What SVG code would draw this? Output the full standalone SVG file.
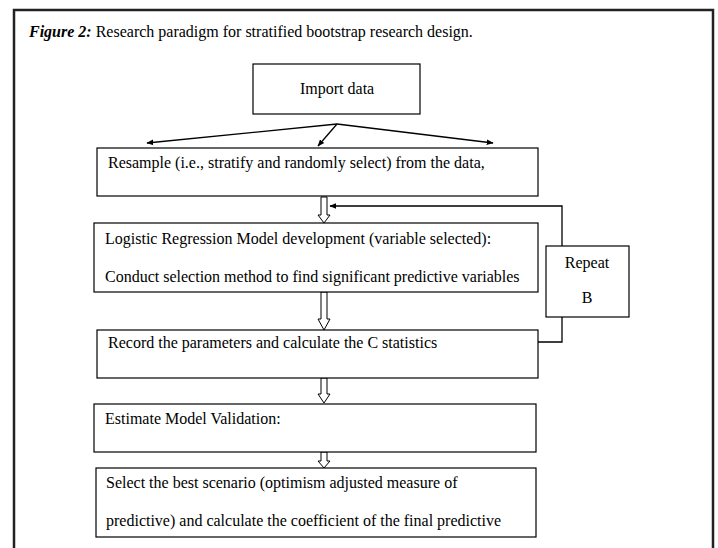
<svg xmlns="http://www.w3.org/2000/svg" width="718" height="548" viewBox="0 0 718 548">
<style>
text{font-family:"Liberation Serif","Times New Roman",serif;font-size:16px;fill:#000}
.box{fill:#fff;stroke:#000;stroke-width:1.2}
.ln{fill:none;stroke:#000;stroke-width:1.3}
.hol{fill:#fff;stroke:#000;stroke-width:1}
</style>
<defs>
<marker id="ah" viewBox="0 0 10 10" refX="9" refY="5" markerWidth="7" markerHeight="7" orient="auto" markerUnits="userSpaceOnUse">
<path d="M0,1 L10,5 L0,9 z" fill="#000"/>
</marker>
</defs>
<rect x="0" y="0" width="718" height="548" fill="#fff"/>
<path d="M14,560 L14,10 L713,10 L713,560" fill="none" stroke="#222" stroke-width="2.5"/>
<text x="29" y="37"><tspan font-weight="bold" font-style="italic">Figure 2:</tspan> Research paradigm for stratified bootstrap research design.</text>

<g id="connectors">
<path class="ln" d="M337,124 L147,143" marker-end="url(#ah)"/>
<path class="ln" d="M337,124 L318,146" marker-end="url(#ah)"/>
<path class="ln" d="M337,124 L493,143" marker-end="url(#ah)"/>
<polygon class="hol" points="321,197 327,197 327,215 330,215 324,223 318,215 321,215"/>
<polygon class="hol" points="321,292 327,292 327,319 330,319 324,330 318,319 321,319"/>
<polygon class="hol" points="321,378 327,378 327,394 330,394 324,403 318,394 321,394"/>
<polygon class="hol" points="321,452 327,452 327,461 330,461 324,468 318,461 321,461"/>
<path class="ln" d="M562,246 L562,206 L330,206" marker-end="url(#ah)"/>
<path class="ln" d="M562,317 L562,342 L538,342"/>
</g>

<g id="import">
<rect class="box" x="253" y="64" width="167" height="50"/>
<text x="300" y="94">Import data</text>
</g>
<g id="resample">
<rect class="box" x="97" y="148" width="441" height="48"/>
<text x="108" y="168">Resample (i.e., stratify and randomly select) from the data,</text>
</g>
<g id="logistic">
<rect class="box" x="94" y="223" width="444" height="69"/>
<text x="105" y="244">Logistic Regression Model development (variable selected):</text>
<text x="105" y="282">Conduct selection method to find significant predictive variables</text>
</g>
<g id="repeat">
<rect class="box" x="546" y="246" width="83" height="71"/>
<text x="587" y="268" text-anchor="middle">Repeat</text>
<text x="587" y="303" text-anchor="middle">B</text>
</g>
<g id="record">
<rect class="box" x="97" y="330" width="441" height="48"/>
<text x="108" y="348">Record the parameters and calculate the C statistics</text>
</g>
<g id="estimate">
<rect class="box" x="94" y="404" width="442" height="48"/>
<text x="105" y="424">Estimate Model Validation:</text>
</g>
<g id="select">
<rect class="box" x="96" y="468" width="440" height="69"/>
<text x="106" y="488">Select the best scenario (optimism adjusted measure of</text>
<text x="106" y="526">predictive) and calculate the coefficient of the final predictive</text>
</g>
</svg>
